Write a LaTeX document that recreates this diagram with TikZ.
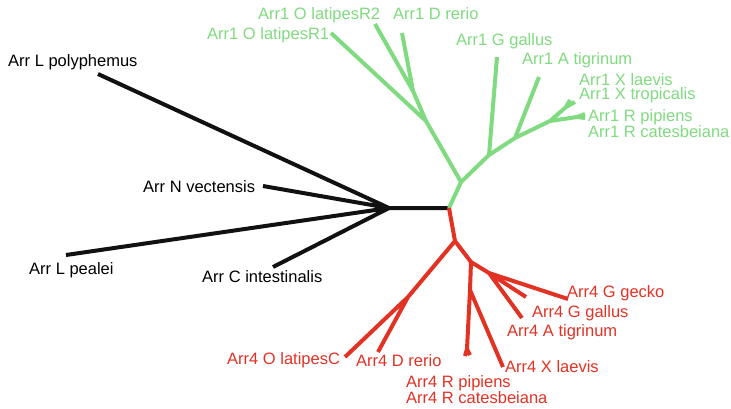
\documentclass[tikz,border=0pt]{standalone}
\usepackage{fontspec}
\setmainfont{Liberation Sans}
\usetikzlibrary{calc}

\definecolor{arrgreen}{RGB}{128,218,128}
\definecolor{arrred}{RGB}{226,50,36}
\definecolor{arrblack}{RGB}{17,17,17}

\begin{document}
\begin{tikzpicture}[x=1pt,y=-1pt]
    % `branch' is used for the tree edges.
    % `taxon' is used for the leaf names, `taxa' for two names in one node
    % (placed at the baseline of its lower line).
    \tikzstyle{branch} = [line width=4pt,line join=round]
    \tikzstyle{taxon} = [anchor=base west,inner sep=0pt,font=\fontsize{16.5}{14.5}\selectfont]
    \tikzstyle{taxa} = [taxon,align=left]
    \useasboundingbox (0,0) rectangle (731,408);
    %
    % Inner nodes.
    \coordinate (hub) at (389,208);
    \coordinate (J) at (449,208);
    \coordinate (G1) at (461,182);
    \coordinate (G2) at (426,121);
    \coordinate (G3) at (413,91);
    \coordinate (G4) at (489,155);
    \coordinate (G5) at (515,138);
    \coordinate (G6) at (550,121);
    \coordinate (G7) at (566,107);
    \coordinate (G8) at (577,117);
    \coordinate (R1) at (455,241);
    \coordinate (R2) at (408,297);
    \coordinate (R3) at (471,262);
    \coordinate (R4) at (489,273);
    \coordinate (R5) at (470,290);
    \coordinate (R6) at (467,349);
    %
    % Leaf tips.
    \coordinate (tLpol) at (98,74);
    \coordinate (tNvec) at (263,186);
    \coordinate (tLpea) at (66,255);
    \coordinate (tCint) at (273,267);
    \coordinate (tOlaR1) at (331,33);
    \coordinate (tOlaR2) at (375,24);
    \coordinate (tDre1) at (402,33);
    \coordinate (tGga1) at (497,57);
    \coordinate (tAti1) at (539,77);
    \coordinate (tXla1) at (570,100);
    \coordinate (tXtr1) at (575,102);
    \coordinate (tRpi1) at (585,114);
    \coordinate (tRca1) at (585,118);
    \coordinate (tOlaC) at (345,357);
    \coordinate (tDre4) at (378,352);
    \coordinate (tGge4) at (568,299);
    \coordinate (tGga4) at (526,297);
    \coordinate (tAti4) at (522,318);
    \coordinate (tXla4) at (503,367);
    \coordinate (tRpi4) at (465,356);
    \coordinate (tRca4) at (470,355);
    %
    % Leaf names.
    \node[taxon] (Lpol) at (8,66) {Arr L polyphemus};
    \node[taxon] (Nvec) at (143,192) {Arr N vectensis};
    \node[taxon] (Lpea) at (29,274) {Arr L pealei};
    \node[taxon] (Cint) at (202,282) {Arr C intestinalis};
    \node[taxon,arrgreen] (OlaR2) at (258,19) {Arr1 O latipesR2};
    \node[taxon,arrgreen] (Dre1) at (393,19) {Arr1 D rerio};
    \node[taxon,arrgreen] (OlaR1) at (207,39) {Arr1 O latipesR1};
    \node[taxon,arrgreen] (Gga1) at (456,45) {Arr1 G gallus};
    \node[taxon,arrgreen] (Ati1) at (522,64) {Arr1 A tigrinum};
    \node[taxa,arrgreen] (Xen1) at (579,99.5) {Arr1 X laevis\\Arr1 X tropicalis};
    \node[taxa,arrgreen] (Ran1) at (588,137.5) {Arr1 R pipiens\\Arr1 R catesbeiana};
    \node[taxon,arrred] (Gge4) at (567,297) {Arr4 G gecko};
    \node[taxon,arrred] (Gga4) at (532,317) {Arr4 G gallus};
    \node[taxon,arrred] (Ati4) at (507,336) {Arr4 A tigrinum};
    \node[taxon,arrred] (OlaC) at (227,364) {Arr4 O latipesC};
    \node[taxon,arrred] (Dre4) at (356,366) {Arr4 D rerio};
    \node[taxon,arrred] (Xla4) at (505,372) {Arr4 X laevis};
    \node[taxa,arrred] (Ran4) at (406,403.5) {Arr4 R pipiens\\Arr4 R catesbeiana};
    %
    % Draw branches.
    \draw[branch,arrblack] (hub) -- (J)  (hub) -- (tLpol)  (hub) -- (tNvec)
                           (hub) -- (tLpea)  (hub) -- (tCint);
    \draw[branch,arrgreen] (J) -- (G1)  (G1) -- (G2)  (G2) -- (tOlaR1)
                           (G2) -- (G3)  (G3) -- (tOlaR2)  (G3) -- (tDre1)
                           (G1) -- (G4)  (G4) -- (tGga1)  (G4) -- (G5)
                           (G5) -- (tAti1)  (G5) -- (G6)  (G6) -- (G7)
                           (G7) -- (tXla1)  (G7) -- (tXtr1)  (G6) -- (G8)
                           (G8) -- (tRpi1)  (G8) -- (tRca1);
    \draw[branch,arrred] (J) -- (R1)  (R1) -- (R2)  (R2) -- (tOlaC)
                         (R2) -- (tDre4)  (R1) -- (R3)  (R3) -- (R4)
                         (R4) -- (tGge4)  (R4) -- (tGga4)  (R4) -- (tAti4)
                         (R3) -- (R5)  (R5) -- (tXla4)  (R5) -- (R6)
                         (R6) -- (tRpi4)  (R6) -- (tRca4);
\end{tikzpicture}
\end{document}
